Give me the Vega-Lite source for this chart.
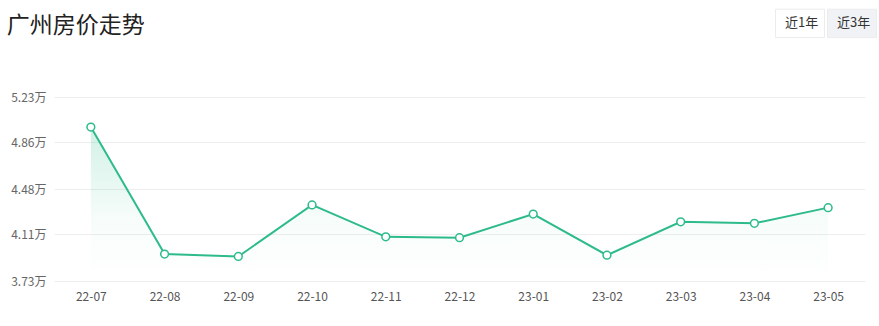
{
  "$schema": "https://vega.github.io/schema/vega-lite/v6.json",
  "autosize": {"type": "none"},
  "padding": {"left": 54, "top": 97, "right": 14, "bottom": 45},
  "width": 811,
  "height": 184,
  "background": "#ffffff",
  "title": {
    "text": "广州房价走势",
    "anchor": "start",
    "frame": "bounds",
    "orient": "top",
    "baseline": "top",
    "offset": -40,
    "dx": -4,
    "font": "Noto Sans CJK SC",
    "fontSize": 23,
    "fontWeight": "normal",
    "color": "#222222"
  },
  "config": {
    "view": {"stroke": null},
    "font": "Noto Sans CJK SC"
  },
  "layer": [
    {
      "data": {"name": "trend"},
      "mark": {
        "type": "area",
        "line": false,
        "color": {
          "gradient": "linear",
          "x1": 0, "y1": 0, "x2": 0, "y2": 1,
          "stops": [
            {"offset": 0, "color": "rgba(44,190,140,0.22)"},
            {"offset": 0.6, "color": "rgba(44,190,140,0.04)"},
            {"offset": 1, "color": "rgba(44,190,140,0)"}
          ]
        }
      },
      "encoding": {
        "x": {
          "field": "month", "type": "ordinal", "sort": null,
          "scale": {"type": "point", "padding": 0.5},
          "axis": {
            "title": null, "domain": false, "ticks": false, "labelAngle": 0,
            "labelPadding": 10, "labelFontSize": 12, "labelColor": "#555555",
            "labelFont": "Noto Sans CJK SC", "grid": false
          }
        },
        "y": {
          "field": "price", "type": "quantitative",
          "scale": {"domain": [3.73, 5.23], "zero": false, "nice": false},
          "axis": {
            "title": null, "domain": false, "ticks": false,
            "values": [3.73, 4.11, 4.48, 4.86, 5.23],
            "labelExpr": "format(datum.value, '.2f') + '万'",
            "labelPadding": 8, "labelFontSize": 12, "labelColor": "#666666",
            "labelFont": "Noto Sans CJK SC",
            "gridColor": "#eeeeee", "gridWidth": 1
          }
        },
        "y2": {"datum": 3.73}
      }
    },
    {
      "data": {"name": "trend"},
      "mark": {"type": "line", "color": "#2dbb8b", "strokeWidth": 2},
      "encoding": {
        "x": {"field": "month", "type": "ordinal", "sort": null},
        "y": {"field": "price", "type": "quantitative"}
      }
    },
    {
      "data": {"name": "trend"},
      "mark": {"type": "point", "filled": true, "fill": "#ffffff", "stroke": "#2dbb8b", "strokeWidth": 1.5, "size": 60, "opacity": 1},
      "encoding": {
        "x": {"field": "month", "type": "ordinal", "sort": null},
        "y": {"field": "price", "type": "quantitative"}
      }
    },
    {
      "data": {"name": "buttons"},
      "mark": {"type": "square", "opacity": 0},
      "encoding": {
        "fill": {
          "field": "btn", "type": "nominal",
          "scale": {"domain": ["近1年", "近3年"], "range": ["#ffffff", "#f0f2f5"]},
          "legend": {
            "orient": "none",
            "legendX": 721,
            "legendY": -99,
            "direction": "horizontal",
            "columns": 2,
            "title": null,
            "padding": 0,
            "columnPadding": -3,
            "symbolType": "M-1,-0.58H1V0.58H-1Z",
            "symbolSize": 2401,
            "symbolOpacity": 1,
            "symbolStrokeColor": "#ececec",
            "symbolStrokeWidth": 1,
            "labelOffset": -40,
            "labelFontSize": 13,
            "labelColor": "#333333",
            "labelFont": "Noto Sans CJK SC"
          }
        }
      }
    }
  ],
  "datasets": {
    "trend": [
      {"month": "22-07", "price": 4.985},
      {"month": "22-08", "price": 3.95},
      {"month": "22-09", "price": 3.93},
      {"month": "22-10", "price": 4.35},
      {"month": "22-11", "price": 4.09},
      {"month": "22-12", "price": 4.083},
      {"month": "23-01", "price": 4.276},
      {"month": "23-02", "price": 3.94},
      {"month": "23-03", "price": 4.213},
      {"month": "23-04", "price": 4.2},
      {"month": "23-05", "price": 4.328}
    ],
    "buttons": [
      {"btn": "近1年"},
      {"btn": "近3年"}
    ]
  }
}
